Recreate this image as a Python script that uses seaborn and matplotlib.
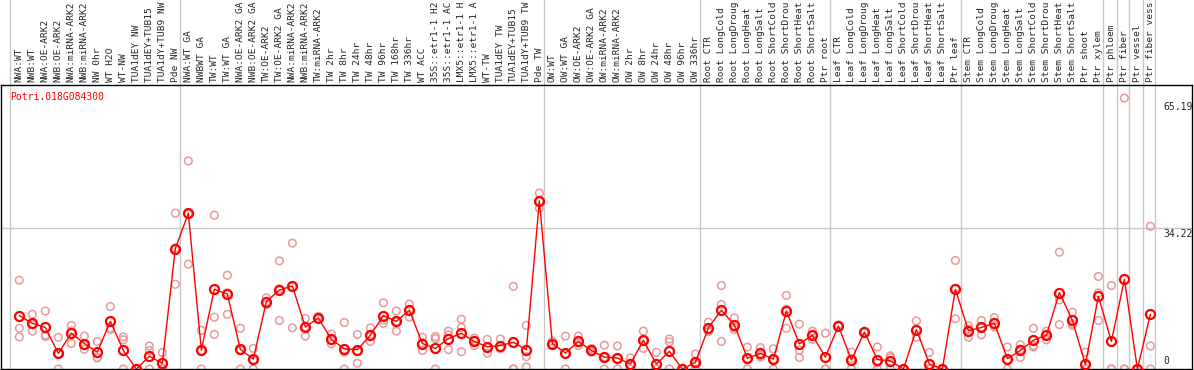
import numpy as np
import pandas as pd
import matplotlib
matplotlib.use('Agg')
import matplotlib.pyplot as plt
from matplotlib.transforms import blended_transform_factory
import seaborn as sns

# sample labels (truncated to 14 chars as in the original)
labels = [
    'NWA:WT', 'NWB:WT', 'NWA:OE-ARK2', 'NWB:OE-ARK2', 'NWA:miRNA-ARK2', 'NWB:miRNA-ARK2',
    'NW 0hr', 'WT H2O', 'WT-NW', 'TUA1dEY NW', 'TUA1dEY+TUB15 ', 'TUA1dY+TUB9 NW', 'Pde NW',
    'NWA:WT GA', 'NWBWT GA', 'TW:WT', 'TW:WT GA', 'NWA:OE-ARK2 GA', 'NWB:OE-ARK2 GA',
    'TW:OE-ARK2', 'TW:OE-ARK2 GA', 'NWA:miRNA-ARK2', 'NWB:miRNA-ARK2', 'TW:miRNA-ARK2',
    'TW 2hr', 'TW 8hr', 'TW 24hr', 'TW 48hr', 'TW 96hr', 'TW 168hr', 'TW 336hr', 'WT ACC',
    '35S::etr1-1 H2', '35S::etr1-1 AC', 'LMX5::etr1-1 H', 'LMX5::etr1-1 A', 'WT-TW',
    'TUA1dEY TW', 'TUA1dEY+TUB15', 'TUA1dY+TUB9 TW', 'Pde TW',
    'OW:WT', 'OW:WT GA', 'OW:OE-ARK2', 'OW:OE-ARK2 GA', 'OW:miRNA-ARK2', 'OW:miRNA-ARK2',
    'OW 2hr', 'OW 8hr', 'OW 24hr', 'OW 48hr', 'OW 96hr', 'OW 336hr',
    'Root CTR', 'Root LongCold', 'Root LongDroug', 'Root LongHeat', 'Root LongSalt',
    'Root ShortCold', 'Root ShortDrou', 'Root ShortHeat', 'Root ShortSalt', 'Ptr root',
    'Leaf CTR', 'Leaf LongCold', 'Leaf LongDroug', 'Leaf LongHeat', 'Leaf LongSalt',
    'Leaf ShortCold', 'Leaf ShortDrou', 'Leaf ShortHeat', 'Leaf ShortSalt', 'Ptr leaf',
    'Stem CTR', 'Stem LongCold', 'Stem LongDroug', 'Stem LongHeat', 'Stem LongSalt',
    'Stem ShortCold', 'Stem ShortDrou', 'Stem ShortHeat', 'Stem ShortSalt', 'Ptr shoot',
    'Ptr xylem', 'Ptr phloem', 'Ptr fiber', 'Ptr vessel', 'Ptr fiber vess',
]

# mean expression per sample
mean_expr = [
    13.0, 11.1, 10.1, 3.8, 8.7, 6.2, 4.1, 11.6, 4.5, 0.0, 3.1, 1.4, 29.3,
    37.9, 4.6, 19.4, 18.2, 4.8, 2.4, 16.4, 19.2, 20.2, 10.2, 12.4, 7.2, 4.9, 4.7, 8.2,
    13.0, 11.6, 14.3, 6.2, 5.0, 7.4, 8.7, 6.7, 5.4, 5.7, 6.5, 4.7, 40.9,
    6.2, 3.9, 6.7, 4.5, 2.9, 2.7, 1.2, 7.0, 1.2, 4.3, 0.0, 1.6,
    10.0, 14.3, 10.7, 2.6, 3.8, 2.4, 14.1, 6.1, 8.2, 2.9,
    10.5, 2.2, 9.0, 2.3, 2.0, 0.0, 9.6, 1.2, 0.0, 19.4,
    9.3, 10.1, 11.1, 2.5, 4.5, 7.0, 8.2, 18.6, 11.8, 1.1,
    17.7, 6.7, 21.8, 0.0, 13.3,
]

# individual replicates
rep_a = [
    21.6, 13.3, 14.1, 7.7, 10.6, 8.0, 6.7, 15.2, 7.8, 0.0, 5.6, 4.0, 37.9,
    50.6, 9.4, 37.4, 22.8, 9.9, 5.0, 17.3, 26.3, 30.6, 12.3, 12.8, 8.5, 11.3, 8.4, 10.0,
    16.1, 14.1, 15.8, 7.7, 7.9, 9.2, 12.1, 7.5, 7.2, 7.3, 20.1, 10.6, 42.8,
    6.8, 8.0, 8.0, 5.0, 5.8, 5.6, 2.7, 9.2, 4.05, 7.3, 0.0, 3.65,
    11.4, 20.3, 12.4, 5.3, 5.2, 4.9, 17.9, 10.9, 9.2, 8.7,
    10.5, 4.1, 9.2, 5.35, 3.2, 0.0, 11.7, 4.05, 0.0, 26.4,
    10.5, 11.8, 12.5, 5.35, 5.9, 9.9, 9.2, 28.4, 13.8, 4.1,
    22.5, 20.3, 65.9, 0.0, 34.7,
]
rep_b = [
    9.9, 9.2, 8.2, 0.0, 6.2, 4.8, 2.7, 9.6, 7.1, 0.0, 4.5, 0.2, 20.6,
    25.5, 0.0, 12.6, 13.3, 0.0, 0.0, 15.7, 11.8, 10.0, 8.0, 12.3, 6.1, 4.1, 1.4, 6.7,
    11.1, 9.2, 12.6, 4.5, 7.4, 4.7, 10.1, 5.7, 3.8, 4.9, 0.0, 3.0, 39.1,
    5.7, 0.0, 5.7, 4.1, 0.0, 0.0, 0.0, 5.0, 0.0, 6.6, 0.0, 0.0,
    9.1, 15.7, 9.6, 0.0, 2.9, 0.0, 9.9, 4.6, 7.2, 0.0,
    10.3, 0.0, 8.8, 1.5, 2.75, 0.0, 7.7, 0.0, 0.0, 12.2,
    7.7, 8.3, 10.2, 0.0, 2.8, 5.35, 7.1, 16.8, 10.6, 0.0,
    18.5, 0.0, 0.0, 0.0, 5.6,
]
rep_c = [
    7.8, 10.8, 7.9, 3.7, 9.3, 5.8, 2.8, 10.0, 0.0, 0.0, 0.0, 0.0, 29.4,
    37.6, 4.4, 8.4, 18.5, 4.5, 2.1, 16.2, 19.5, 20.0, 10.3, 12.1, 7.0, 0.0, 4.3, 7.9,
    11.9, 11.5, 14.5, 6.4, 0.0, 8.3, 4.2, 6.9, 5.2, 5.0, 0.0, 0.5, 40.8,
    6.1, 3.7, 6.4, 4.4, 2.9, 2.5, 0.9, 6.8, 0.0, 0.0, 0.0, 1.2,
    9.5, 6.7, 10.1, 2.5, 3.3, 2.3, 14.5, 2.8, 8.2, 0.0,
    10.7, 2.5, 9.0, 0.0, 0.0, 0.0, 9.55, 0.0, 0.0, 19.6,
    9.7, 10.2, 10.6, 2.2, 4.8, 5.7, 8.3, 10.8, 11.0, 0.0,
    11.8, 0.0, 0.0, 0.0, 0.0,
]

gene_name = 'Potri.018G084300'
y_marks = [65.19, 34.22, 0]
# grid separators between sample groups
group_edges = [-0.7, 12.36, 40.36, 52.36, 62.36, 72.4, 83.36, 84.4, 85.36, 86.4, 87.36]

idx = np.arange(len(labels))
reps = pd.DataFrame({
    'idx': np.concatenate([idx, idx, idx]),
    'value': rep_a + rep_b + rep_c,
})

sns.set_style('white')
plt.rcParams['font.family'] = ['DejaVu Sans Mono']

fig = plt.figure(figsize=(11.94, 3.70), dpi=100)
ax = fig.add_axes([1 / 1194, 1 / 370, 1191 / 1194, 284 / 370])

for xe in group_edges:
    ax.axvline(xe, ymin=0, ymax=1.31, color='#c8c8c8', lw=1, clip_on=False, zorder=1)
ax.axhline(34.22, color='#c8c8c8', lw=1, zorder=1)

sns.scatterplot(data=reps, x='idx', y='value', marker='o', s=30,
                facecolor='none', edgecolor='#e89a9a', linewidth=1.1,
                legend=False, ax=ax, zorder=2)
sns.lineplot(x=idx, y=mean_expr, color='red', lw=1, marker='o', markersize=6.5,
             markerfacecolor='none', markeredgecolor='red', markeredgewidth=1.6,
             ax=ax, zorder=3)

ax.set_xlim(-1.41, 90.2)
ax.set_ylim(0, 69.07)
ax.set_xticks(idx)
ax.set_xticklabels(labels, rotation=90, fontsize=6.8)
ax.xaxis.tick_top()
ax.tick_params(axis='x', length=0, pad=2)
ax.set_yticks([])
ax.set_xlabel('')
ax.set_ylabel('')
for sp in ax.spines.values():
    sp.set_color('black')
    sp.set_linewidth(1)

# value marks on the right, inside the plot
tr = blended_transform_factory(ax.transAxes, ax.transData)
ax.text(0.9757, y_marks[0] - 0.3, f'{y_marks[0]:.2f}', transform=tr,
        fontsize=7, va='top', ha='left')
ax.text(0.9757, y_marks[1] - 0.1, f'{y_marks[1]:.2f}', transform=tr,
        fontsize=7, va='top', ha='left')
ax.text(0.9757, y_marks[2] + 0.7, '0', transform=tr,
        fontsize=7, va='bottom', ha='left')
ax.text(0.0076, 0.958, gene_name, transform=ax.transAxes, color='red',
        fontsize=7, va='center', ha='left')

fig.savefig('out.png', dpi=100)
